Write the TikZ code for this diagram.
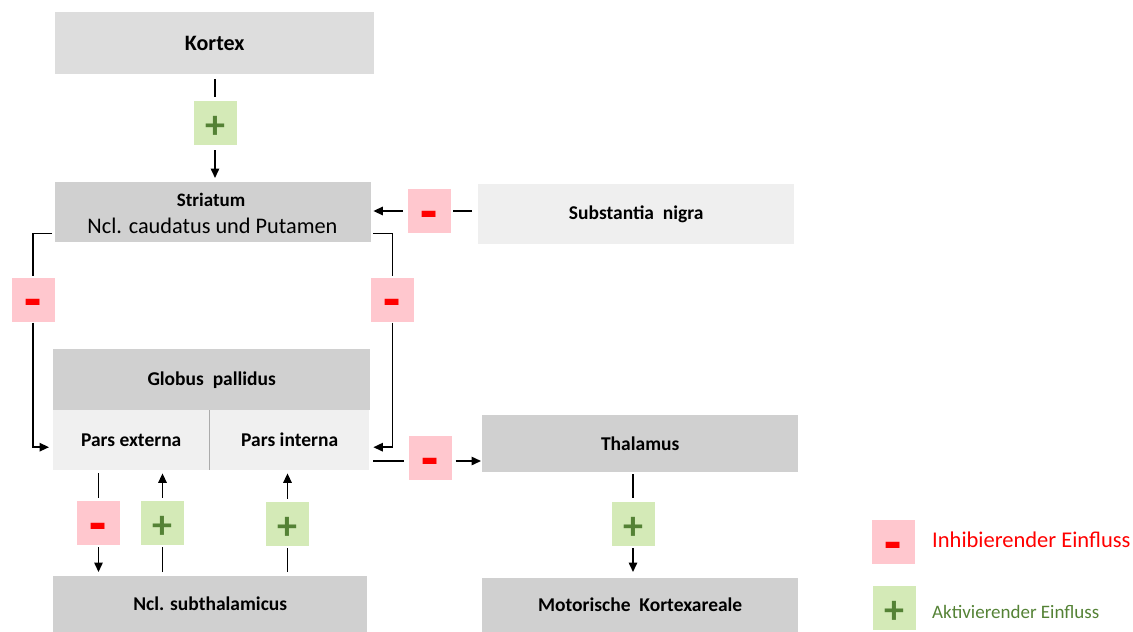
\documentclass[tikz,border=0pt]{standalone}
\usepackage{fontspec}
\setmainfont{Carlito}
\usetikzlibrary{arrows.meta,calc}
\definecolor{boxgray}{HTML}{D0D0D0}
\definecolor{kortexgray}{HTML}{DDDDDD}
\definecolor{lightbox}{HTML}{F0F0F0}
\definecolor{snbox}{HTML}{EFEFEF}
\definecolor{pinkbox}{HTML}{FFC7CE}
\definecolor{greenbox}{HTML}{D4EAB7}
\definecolor{plusgreen}{HTML}{548235}
\definecolor{minusred}{HTML}{FF0000}
\newcommand{\minussign}{\raisebox{-20pt}[0pt][0pt]{\scalebox{1.4}[1.5]{-}}}
\newcommand{\plussign}{\raisebox{-15.5pt}[0pt][0pt]{+}}
\tikzset{
  blk/.style={draw=none, fill=boxgray, anchor=north west, inner sep=0pt, font=\fontsize{19.5}{22}\selectfont\bfseries},
  minusbox/.style={fill=pinkbox, minimum width=43pt, minimum height=44pt, inner sep=0pt, text=minusred, font=\fontsize{40}{40}\selectfont\bfseries},
  plusbox/.style={fill=greenbox, minimum width=43pt, minimum height=44pt, inner sep=0pt, text=plusgreen, font=\fontsize{40}{40}\selectfont\bfseries},
  ln/.style={line width=1.5pt, black},
  arr/.style={ln, -{Triangle[width=8.5pt,length=9.5pt]}},
}
\begin{document}
\begin{tikzpicture}[x=1pt,y=-1pt]
\useasboundingbox (0,0) rectangle (1133,632);
% boxes
\node[blk, fill=kortexgray, minimum width=319pt, minimum height=62pt, font=\fontsize{22}{24}\selectfont\bfseries] (kortex) at (55,12) {\raisebox{-2pt}{Kortex}};
\node[blk, minimum width=316pt, minimum height=60pt] (striatum) at (55,182) {};
\node[font=\fontsize{19}{20}\selectfont\bfseries, inner sep=0pt] (striatumT) at (211,200) {Striatum};
\node[font=\fontsize{22.3}{24}\selectfont, inner sep=0pt] (striatumN) at (212.5,226) {Ncl. caudatus und Putamen};
\node[blk, fill=snbox, minimum width=316pt, minimum height=60pt] (sn) at (478,184) {Substantia\ \ nigra};
\node[blk, minimum width=317pt, minimum height=61pt] (gp) at (53,349) {Globus\ \ pallidus};
\node[blk, fill=lightbox, minimum width=156pt, minimum height=60pt] (pe) at (53,410) {Pars externa};
\node[blk, fill=lightbox, minimum width=159pt, minimum height=60pt] (pi) at (210,410) {Pars interna};
\draw[line width=1.2pt, draw=black!33] (pe.north east) -- (pe.south east);
\node[blk, minimum width=314pt, minimum height=56pt] (nst) at (53,576) {Ncl. subthalamicus};
\node[blk, minimum width=316pt, minimum height=57pt] (thal) at (482,415) {Thalamus};
\node[blk, minimum width=316pt, minimum height=54pt] (motor) at (482,578) {Motorische\ \ Kortexareale};
% sign boxes
\node[plusbox] (p1) at (215,123) {\plussign};
\node[minusbox] (m2) at (33,299.5) {\minussign};
\node[minusbox] (m3) at (392.5,299.5) {\minussign};
\node[minusbox] (m4) at (429.5,211) {\minussign};
\node[minusbox] (m5) at (430,458) {\minussign};
\node[plusbox] (p6) at (633,524) {\plussign};
\node[minusbox] (m7) at (98.5,523) {\minussign};
\node[plusbox] (p8) at (162.5,523) {\plussign};
\node[plusbox] (p9) at (287.5,524) {\plussign};
% connectors
\draw[ln, shorten <=5pt, shorten >=4pt] (kortex.south -| p1) -- (p1.north);
\draw[arr, shorten <=5pt, shorten >=4pt] (p1.south) -- (striatum.north -| p1);
\draw[ln, shorten >=1pt] ($(striatum.south west)+(-3,-9)$) -| (m2.north);
\draw[arr, shorten <=1pt, shorten >=4pt] (m2.south) |- ($(pe.west)+(0,7)$);
\draw[ln, shorten >=1pt] ($(striatum.south east)+(2,-9)$) -| (m3.north);
\draw[arr, shorten <=1pt, shorten >=4pt] (m3.south) |- ($(pi.east)+(0,7)$);
\draw[ln, shorten <=6pt, shorten >=2pt] (sn.west |- m4) -- (m4.east);
\draw[arr, shorten <=5pt, shorten >=2pt] (m4.west) -- (striatum.east |- m4);
\draw[ln, shorten <=4pt, shorten >=4pt] ($(pi.east |- m5)+(0,3)$) -- ($(m5.west)+(0,3)$);
\draw[arr, shorten <=4pt, shorten >=1pt] ($(m5.east)+(0,3)$) -- ($(thal.west |- m5)+(0,3)$);
\draw[ln, shorten <=2pt, shorten >=4pt] (thal.south -| p6) -- (p6.north);
\draw[arr, shorten <=2pt, shorten >=6pt] (p6.south) -- (motor.north -| p6);
\draw[ln, shorten <=3pt, shorten >=3pt] (pe.south -| m7) -- (m7.north);
\draw[arr, shorten <=2pt, shorten >=4pt] (m7.south) -- (nst.north -| m7);
\draw[ln, shorten <=4pt, shorten >=2pt] (nst.north -| p8) -- (p8.south);
\draw[arr, shorten <=3pt, shorten >=3pt] (p8.north) -- (pe.south -| p8);
\draw[ln, shorten <=4pt, shorten >=2pt] (nst.north -| p9) -- (p9.south);
\draw[arr, shorten <=3pt, shorten >=3pt] (p9.north) -- (pi.south -| p9);
% legend
\node[minusbox] (legm) at (893.5,542) {\minussign};
\node[plusbox] (legp) at (894.5,608) {\plussign};
\node[anchor=west, inner sep=0pt, text=minusred, font=\fontsize{22.5}{24}\selectfont] (legmT) at (932,540) {Inhibierender Einfluss};
\node[anchor=west, inner sep=0pt, text=plusgreen, font=\fontsize{19}{22}\selectfont] (legpT) at (932,612) {Aktivierender Einfluss};
\end{tikzpicture}
\end{document}
